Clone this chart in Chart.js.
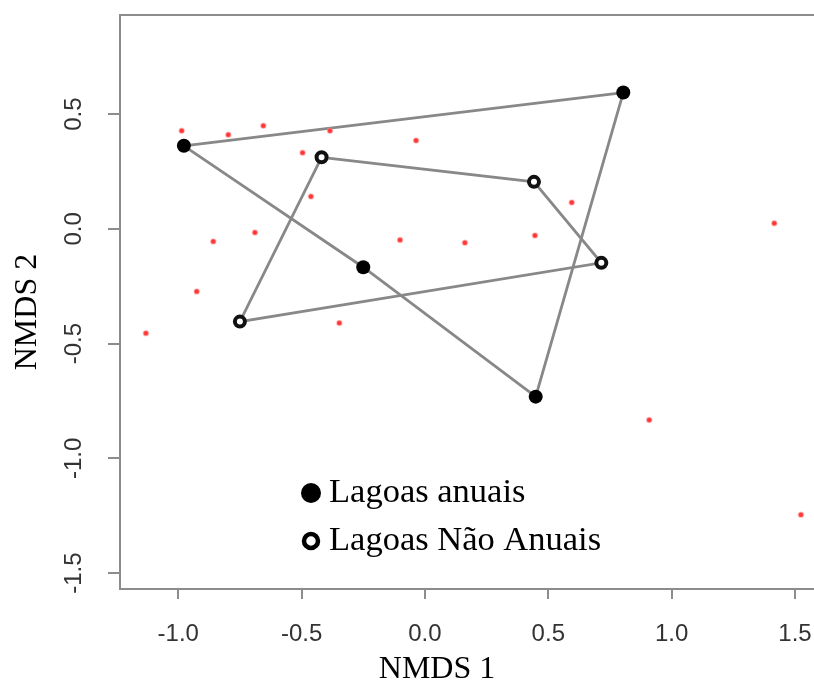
<!DOCTYPE html>
<html>
<head>
<meta charset="utf-8">
<script src="https://cdn.jsdelivr.net/npm/chart.js@4"></script>
<style>
  html, body { margin: 0; padding: 0; background: #fff; }
  #wrap { width: 814px; height: 681px; }
</style>
</head>
<body>
<div id="wrap"><canvas id="nmds" width="814" height="681"></canvas></div>
<script>
// site scores, annual ponds (hull order)
const annualX = [-0.977, 0.804, 0.449, -0.250];
const annualY = [0.362, 0.594, -0.731, -0.167];
// site scores, non-annual ponds (hull order)
const nonAnnualX = [-0.419, 0.442, 0.715, -0.750];
const nonAnnualY = [0.312, 0.205, -0.148, -0.404];
// species scores
const speciesX = [-0.986, -0.797, -0.655, -0.385, -0.036, -0.496, -0.462, -0.689, -0.858, -0.101,
                  0.162, 0.446, 0.595, 1.416, -0.925, -1.131, -0.347, 0.909, 1.524];
const speciesY = [0.428, 0.410, 0.449, 0.428, 0.385, 0.332, 0.141, -0.016, -0.055, -0.048,
                  -0.060, -0.029, 0.115, 0.025, -0.273, -0.455, -0.410, -0.833, -1.245];

const xTicks = [-1.0, -0.5, 0.0, 0.5, 1.0, 1.5];
const yTicks = [-1.5, -1.0, -0.5, 0.0, 0.5];
const legendLabels = ['Lagoas anuais', 'Lagoas Não Anuais'];
const xTitle = 'NMDS 1';
const yTitle = 'NMDS 2';

const toPoints = (xs, ys) => xs.map((x, i) => ({ x: x, y: ys[i] }));
const closeRing = pts => pts.concat([pts[0]]);

const annualPts = toPoints(annualX, annualY);
const nonAnnualPts = toPoints(nonAnnualX, nonAnnualY);

const AXIS_GREY = '#8c8c8c';
const SERIF = '"Liberation Serif", "Times New Roman", serif';
const SANS = '"Liberation Sans", Arial, sans-serif';

// box, tick labels (y ones read upwards), axis titles and legend
const decor = {
  id: 'decor',
  afterDraw(chart) {
    const ctx = chart.ctx;
    const a = chart.chartArea;
    ctx.save();
    ctx.strokeStyle = AXIS_GREY;
    ctx.lineWidth = 2;
    ctx.strokeRect(a.left, a.top, a.right - a.left + 4, a.bottom - a.top);

    ctx.fillStyle = '#333';
    ctx.font = '24px ' + SANS;
    ctx.textAlign = 'center';
    ctx.textBaseline = 'alphabetic';
    const xs = chart.scales.x;
    xTicks.forEach(v => {
      ctx.fillText(v.toFixed(1), xs.getPixelForValue(v), 641);
    });
    const ys = chart.scales.y;
    yTicks.forEach(v => {
      const py = ys.getPixelForValue(v);
      ctx.save();
      ctx.translate(81, py);
      ctx.rotate(-Math.PI / 2);
      ctx.fillText(v.toFixed(1), 0, 0);
      ctx.restore();
    });

    // axis titles
    ctx.fillStyle = '#000';
    ctx.font = '32px ' + SERIF;
    ctx.fillText(xTitle, 437, 678);
    ctx.save();
    ctx.translate(36, 312);
    ctx.rotate(-Math.PI / 2);
    ctx.fillText(yTitle, 0, 0);
    ctx.restore();

    // legend
    ctx.fillStyle = '#000';
    ctx.beginPath();
    ctx.arc(311, 493, 10, 0, Math.PI * 2);
    ctx.fill();
    ctx.strokeStyle = '#000';
    ctx.lineWidth = 4.5;
    ctx.beginPath();
    ctx.arc(311, 541, 7, 0, Math.PI * 2);
    ctx.stroke();
    ctx.font = '34.5px ' + SERIF;
    ctx.textAlign = 'left';
    ctx.fillText(legendLabels[0], 329, 502);
    ctx.fillText(legendLabels[1], 329, 550);
    ctx.restore();
  }
};

new Chart(document.getElementById('nmds'), {
  type: 'scatter',
  data: {
    datasets: [
      {
        label: 'hull anuais',
        data: closeRing(annualPts),
        showLine: true,
        borderColor: '#888',
        borderWidth: 2.8,
        pointRadius: 0,
        order: 4
      },
      {
        label: 'hull não anuais',
        data: closeRing(nonAnnualPts),
        showLine: true,
        borderColor: '#888',
        borderWidth: 2.8,
        pointRadius: 0,
        order: 3
      },
      {
        label: 'espécies',
        data: toPoints(speciesX, speciesY),
        pointRadius: 2.5,
        pointBackgroundColor: '#ff3535',
        pointBorderColor: 'rgba(255,140,140,0.45)',
        pointBorderWidth: 1.5,
        order: 2
      },
      {
        label: legendLabels[0],
        data: annualPts,
        pointRadius: 7,
        pointBackgroundColor: '#000',
        pointBorderColor: '#000',
        pointBorderWidth: 0,
        order: 1
      },
      {
        label: legendLabels[1],
        data: nonAnnualPts,
        pointRadius: 5,
        pointBackgroundColor: '#fff',
        pointBorderColor: '#111',
        pointBorderWidth: 4,
        order: 0
      }
    ]
  },
  options: {
    responsive: false,
    animation: false,
    devicePixelRatio: 1,
    layout: { autoPadding: false, padding: { top: 15, left: 0, right: 0, bottom: 0 } },
    plugins: { legend: { display: false }, tooltip: { enabled: false } },
    scales: {
      x: {
        type: 'linear',
        min: -1.236,
        max: 1.577,
        afterBuildTicks: s => { s.ticks = xTicks.map(v => ({ value: v })); },
        afterFit: s => { s.height = 92; },
        border: { display: false },
        grid: { drawOnChartArea: false, drawTicks: true, tickLength: 10, color: AXIS_GREY, lineWidth: 2 },
        ticks: { display: false }
      },
      y: {
        type: 'linear',
        min: -1.569,
        max: 0.932,
        afterBuildTicks: s => { s.ticks = yTicks.map(v => ({ value: v })); },
        afterFit: s => { s.width = 120; },
        border: { display: false },
        grid: { drawOnChartArea: false, drawTicks: true, tickLength: 12, color: AXIS_GREY, lineWidth: 2 },
        ticks: { display: false }
      }
    }
  },
  plugins: [decor]
});
</script>
</body>
</html>
